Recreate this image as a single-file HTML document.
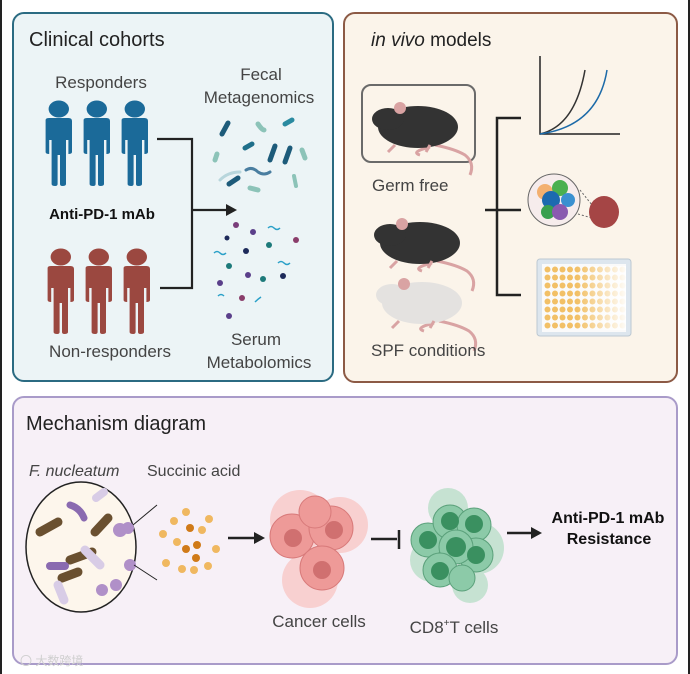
<!DOCTYPE html>
<html><head><meta charset="utf-8"><style>
html,body{margin:0;padding:0;background:#fff;}
svg{display:block;}
text{font-family:"Liberation Sans",sans-serif;}
</style></head><body>
<svg width="690" height="674" viewBox="0 0 690 674" xmlns="http://www.w3.org/2000/svg">
<rect x="0" y="0" width="690" height="674" fill="#fff"/>
<rect x="0" y="0" width="2" height="674" fill="#222"/>
<rect x="688" y="0" width="2" height="674" fill="#222"/>
<rect x="13" y="13" width="320" height="368" rx="11" fill="#ecf4f6" stroke="#2b6b82" stroke-width="2"/>
<rect x="344" y="13" width="333" height="369" rx="11" fill="#fbf4ea" stroke="#8c5a45" stroke-width="2"/>
<rect x="13" y="397" width="664" height="267" rx="11" fill="#f7f0f7" stroke="#a99bc9" stroke-width="2"/>

<text x="29" y="46" font-size="20" fill="#222">Clinical cohorts</text>
<text x="101" y="88" font-size="17" fill="#444" text-anchor="middle">Responders</text>
<text x="261" y="80" font-size="17" fill="#444" text-anchor="middle">Fecal</text>
<text x="259" y="103" font-size="17" fill="#444" text-anchor="middle">Metagenomics</text>
<text x="102" y="219" font-size="15" font-weight="bold" fill="#111" text-anchor="middle">Anti-PD-1 mAb</text>
<text x="110" y="357" font-size="17" fill="#444" text-anchor="middle">Non-responders</text>
<text x="256" y="345" font-size="17" fill="#444" text-anchor="middle">Serum</text>
<text x="259" y="368" font-size="17" fill="#444" text-anchor="middle">Metabolomics</text>
<defs>
<g id="person">
<circle cx="14" cy="9" r="8.5"/>
<path d="M3 20 Q3 18 6 18 L22 18 Q25 18 25 21 L25 52 Q25 54 22 54 L22 40 L20 40 L20 84 Q20 86 17 86 Q15 86 15 84 L15 55 L13 55 L13 84 Q13 86 11 86 Q8 86 8 84 L8 40 L6 40 L6 54 Q3 54 3 52 Z"/>
</g>
</defs>
<g fill="#1b6a99">
<use href="#person" transform="translate(42,100) scale(1.2,1)"/><use href="#person" transform="translate(80,100) scale(1.2,1)"/><use href="#person" transform="translate(118,100) scale(1.2,1)"/>
</g>
<g fill="#9b4840">
<use href="#person" transform="translate(44,248) scale(1.2,1)"/><use href="#person" transform="translate(82,248) scale(1.2,1)"/><use href="#person" transform="translate(120,248) scale(1.2,1)"/>
</g>
<path d="M157 139 H192 V288 H160" fill="none" stroke="#222" stroke-width="2.2"/>
<path d="M192 210 H228" stroke="#222" stroke-width="2.2"/>
<path d="M226 204 L237 210 L226 216 Z" fill="#222"/>
<g stroke-linecap="round">
<path d="M222 134 L228 123" stroke="#1d5b7a" stroke-width="5"/>
<path d="M245 148 L252 144" stroke="#1f6f8a" stroke-width="5"/>
<path d="M285 124 L292 120" stroke="#2a8aa0" stroke-width="5"/>
<path d="M270 160 L275 146" stroke="#1d5b7a" stroke-width="5"/>
<path d="M285 162 L290 148" stroke="#1d5b7a" stroke-width="5"/>
<path d="M229 184 L238 178" stroke="#1d5b7a" stroke-width="5"/>
<path d="M258 124 Q262 130 264 130" stroke="#8cc3b8" stroke-width="5"/>
<path d="M215 160 L217 154" stroke="#8cc3b8" stroke-width="5"/>
<path d="M302 150 L305 158" stroke="#8cc3b8" stroke-width="5"/>
<path d="M250 188 L258 190" stroke="#8cc3b8" stroke-width="5"/>
<path d="M246 170 Q252 166 258 172 Q264 176 270 172" stroke="#4a7ea0" stroke-width="3" fill="none"/>
<path d="M220 180 Q228 172 240 172" stroke="#b8d6dc" stroke-width="3" fill="none"/>
<path d="M294 176 L296 186" stroke="#8cc3b8" stroke-width="4"/>
</g>
<g>
<circle cx="236" cy="225" r="3" fill="#7a3d7a"/><circle cx="253" cy="232" r="3" fill="#5a3f8a"/>
<circle cx="227" cy="238" r="2.5" fill="#1d2a5a"/><circle cx="296" cy="240" r="3" fill="#8a3d6a"/>
<circle cx="269" cy="245" r="3" fill="#1d7a7a"/><circle cx="246" cy="251" r="3" fill="#1d2a5a"/>
<circle cx="229" cy="266" r="3" fill="#1d7a7a"/><circle cx="248" cy="275" r="3" fill="#5a3f8a"/>
<circle cx="263" cy="279" r="3" fill="#1d7a7a"/><circle cx="283" cy="276" r="3" fill="#1d2a5a"/>
<circle cx="220" cy="283" r="3" fill="#5a3f8a"/><circle cx="242" cy="298" r="3" fill="#8a3d6a"/>
<circle cx="229" cy="316" r="3" fill="#5a3f8a"/>
<g stroke="#2aa0c8" stroke-width="1.5" fill="none">
<path d="M268 228 q3 -3 6 0 q3 3 6 0"/><path d="M214 253 q3 -3 6 0 q3 3 6 0"/>
<path d="M278 263 q3 -3 6 0 q3 3 6 0"/><path d="M218 296 q3 -3 6 0"/><path d="M255 302 q3 -3 6 -5"/>
</g></g>

<text x="371" y="46" font-size="19" fill="#222"><tspan font-style="italic">in vivo</tspan> models</text>
<rect x="362" y="85" width="113" height="77" rx="9" fill="none" stroke="#6a6a6a" stroke-width="2"/>
<defs>
<g id="mouse">
<path d="M65 48 Q85 52 95 58 Q105 66 100 78 M60 50 Q40 55 50 58" fill="none" stroke="#d9a3a3" stroke-width="3"/>
<ellipse cx="48" cy="30" rx="40" ry="21"/>
<ellipse cx="18" cy="22" rx="16" ry="11"/>
<circle cx="30" cy="11" r="6" fill="#d9a3a3"/>
<path d="M25 48 L18 55 M60 48 L56 55" stroke="#d9a3a3" stroke-width="3"/>
</g>
</defs>
<g fill="#333"><use href="#mouse" x="370" y="97"/></g>
<g fill="#333"><use href="#mouse" x="372" y="213"/></g>
<g fill="#e4e2e0"><use href="#mouse" x="374" y="273"/></g>
<text x="372" y="191" font-size="17" fill="#444">Germ free</text>
<text x="371" y="356" font-size="17" fill="#444">SPF conditions</text>
<path d="M521 118 H497 V295 H521 M485 210 H521" fill="none" stroke="#222" stroke-width="2.5"/>
<path d="M540 56 V134 H620" fill="none" stroke="#222" stroke-width="1.5"/>
<path d="M540 134 Q575 126 585 70" fill="none" stroke="#333" stroke-width="1.5"/>
<path d="M540 134 Q598 126 607 70" fill="none" stroke="#1c6aa8" stroke-width="1.5"/>
<circle cx="554" cy="200" r="26" fill="#f6ecec" stroke="#666" stroke-width="1"/>
<circle cx="545" cy="192" r="8" fill="#f3b070"/><circle cx="560" cy="188" r="8" fill="#4ab050"/>
<circle cx="551" cy="200" r="9" fill="#1c6ab0"/><circle cx="568" cy="200" r="7" fill="#3a90d0"/>
<circle cx="548" cy="212" r="7" fill="#3aa050"/><circle cx="560" cy="212" r="8" fill="#8a5ab0"/>
<path d="M580 190 L592 205 M578 214 L592 218" stroke="#666" stroke-dasharray="2,2"/>
<ellipse cx="604" cy="212" rx="15" ry="16" fill="#a54545"/>
<rect x="537" y="259" width="94" height="77" rx="3" fill="#dde6ee" stroke="#bcc8d2"/>
<rect x="542" y="264" width="84" height="68" fill="#fafafa"/>
<defs><pattern id="wells" x="544" y="266" width="7.5" height="8" patternUnits="userSpaceOnUse"><circle cx="3.5" cy="3.5" r="3" fill="#f2c066"/></pattern>
<linearGradient id="fade" x1="0" x2="1"><stop offset="0" stop-color="#fff" stop-opacity="0"/><stop offset="0.4" stop-color="#fff" stop-opacity="0"/><stop offset="1" stop-color="#fff" stop-opacity="0.95"/></linearGradient></defs>
<rect x="544" y="266" width="82" height="64" fill="url(#wells)"/>
<rect x="544" y="266" width="82" height="64" fill="url(#fade)"/>

<text x="26" y="430" font-size="20" fill="#222">Mechanism diagram</text>
<text x="29" y="476" font-size="16" font-style="italic" fill="#444">F. nucleatum</text>
<text x="147" y="476" font-size="16" fill="#444">Succinic acid</text>
<ellipse cx="81" cy="547" rx="55" ry="65" fill="#fdf6ec" stroke="#222" stroke-width="1.5"/>
<g stroke-linecap="round">
<path d="M40 532 L58 522" stroke="#6a5030" stroke-width="9"/>
<path d="M95 532 L108 518" stroke="#6a5030" stroke-width="9"/>
<path d="M62 578 L78 572" stroke="#6a5030" stroke-width="9"/>
<path d="M70 560 L92 552" stroke="#6a5030" stroke-width="9"/>
<path d="M70 505 Q80 508 84 518" stroke="#8a6ab0" stroke-width="7" fill="none"/>
<path d="M50 566 L65 566" stroke="#8a6ab0" stroke-width="8"/>
<path d="M85 550 L100 565" stroke="#d8cce6" stroke-width="9"/>
<path d="M58 585 L64 600" stroke="#d8cce6" stroke-width="9"/>
<path d="M96 498 L104 492" stroke="#d8cce6" stroke-width="8"/>
</g>
<circle cx="120" cy="530" r="7" fill="#b090c8"/><circle cx="128" cy="528" r="6" fill="#b090c8"/>
<circle cx="130" cy="565" r="6" fill="#b090c8"/><circle cx="116" cy="585" r="6" fill="#b090c8"/>
<circle cx="102" cy="590" r="6" fill="#b090c8"/>
<path d="M133 525 L157 505 M134 565 L157 580" stroke="#222" stroke-width="1"/>
<g fill="#f0b860">
<circle cx="186" cy="512" r="4"/><circle cx="174" cy="521" r="4"/><circle cx="209" cy="519" r="4"/>
<circle cx="202" cy="530" r="4"/><circle cx="163" cy="534" r="4"/><circle cx="177" cy="542" r="4"/>
<circle cx="216" cy="549" r="4"/><circle cx="166" cy="563" r="4"/><circle cx="182" cy="569" r="4"/>
<circle cx="194" cy="570" r="4"/><circle cx="208" cy="566" r="4"/></g>
<g fill="#d07a18"><circle cx="190" cy="528" r="4"/><circle cx="186" cy="549" r="4"/><circle cx="197" cy="545" r="4"/><circle cx="196" cy="558" r="4"/></g>
<path d="M228 538 H256" stroke="#222" stroke-width="2.5"/><path d="M254 532 L265 538 L254 544 Z" fill="#222"/>
<g fill="#f8d0d0"><circle cx="300" cy="520" r="30"/><circle cx="340" cy="525" r="28"/><circle cx="310" cy="580" r="28"/></g>
<g fill="#ee9a98" stroke="#d87a7a">
<circle cx="292" cy="536" r="22"/><circle cx="331" cy="528" r="22"/><circle cx="322" cy="568" r="22"/>
<circle cx="315" cy="512" r="16"/></g>
<g fill="#d07070"><circle cx="293" cy="538" r="9"/><circle cx="334" cy="530" r="9"/><circle cx="322" cy="570" r="9"/></g>
<text x="319" y="627" font-size="17" fill="#444" text-anchor="middle">Cancer cells</text>
<path d="M371 539 H397 M399 530 V549" stroke="#222" stroke-width="2.5" fill="none"/>
<g fill="#c6e2d2"><circle cx="448" cy="508" r="20"/><circle cx="478" cy="548" r="26"/><circle cx="432" cy="560" r="22"/><circle cx="470" cy="585" r="18"/></g>
<g fill="#8ccaa8" stroke="#5aa07a">
<circle cx="428" cy="540" r="17"/><circle cx="450" cy="522" r="17"/><circle cx="474" cy="525" r="17"/>
<circle cx="476" cy="555" r="17"/><circle cx="456" cy="547" r="17"/><circle cx="440" cy="570" r="17"/><circle cx="462" cy="578" r="13"/></g>
<g fill="#3a9060"><circle cx="428" cy="540" r="9"/><circle cx="450" cy="521" r="9"/><circle cx="474" cy="524" r="9"/><circle cx="476" cy="555" r="9"/><circle cx="456" cy="547" r="10"/><circle cx="440" cy="571" r="9"/></g>
<text x="454" y="633" font-size="17" fill="#444" text-anchor="middle">CD8<tspan font-size="10" dy="-7">+</tspan><tspan dy="7">T cells</tspan></text>
<path d="M507 533 H533" stroke="#222" stroke-width="2.5"/><path d="M531 527 L542 533 L531 539 Z" fill="#222"/>
<text x="608" y="523" font-size="16" font-weight="bold" fill="#111" text-anchor="middle">Anti-PD-1 mAb</text>
<text x="609" y="544" font-size="16" font-weight="bold" fill="#111" text-anchor="middle">Resistance</text>
<text x="20" y="665" font-size="12" fill="#cfcfcf" font-family="Liberation Sans, Noto Sans CJK SC, sans-serif">〇 大数跨境</text>
</svg>
</body></html>
